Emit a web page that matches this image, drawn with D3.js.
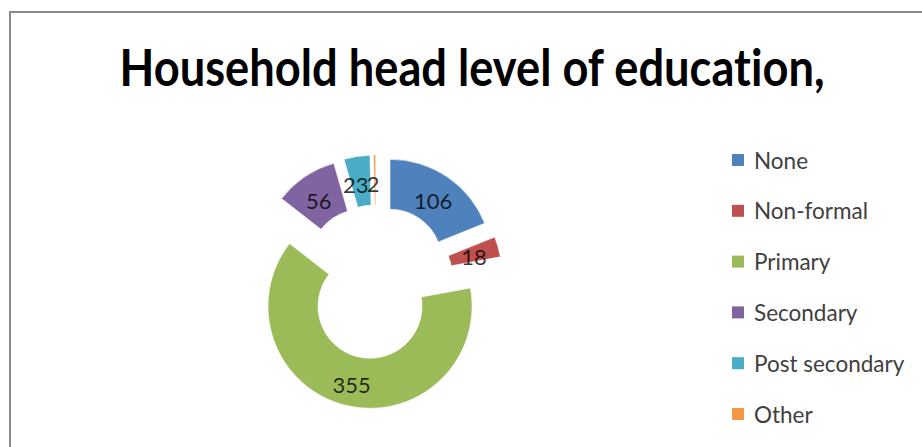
<!DOCTYPE html>
<html>
<head>
<meta charset="utf-8">
<script src="https://cdn.jsdelivr.net/npm/d3@7/dist/d3.min.js"></script>
<style>
  html, body { margin: 0; padding: 0; background: #fff; }
  svg { display: block; }
  text { font-variant-ligatures: none; }
</style>
</head>
<body>
<svg id="chart" width="922" height="447"></svg>
<script>
const title = "Household head level of education,";
const categories = ["None", "Non-formal", "Primary", "Secondary", "Post secondary", "Other"];
const values = [106, 18, 355, 56, 23, 2];
const colors = ["#4F81BD", "#C0504D", "#9BBB59", "#8064A2", "#4BACC6", "#F79646"];

const W = 922, H = 447;
const svg = d3.select("#chart");

// frame
svg.append("rect").attr("x", 0).attr("y", 0).attr("width", W).attr("height", H).attr("fill", "#fff");
svg.append("rect")
  .attr("x", 10).attr("y", 12).attr("width", W + 20).attr("height", H + 20)
  .attr("fill", "#fff").attr("stroke", "#8a8a8a").attr("stroke-width", 2);

// title
const tg = svg.append("g").attr("transform", "translate(472,66) scale(1,1.12)");
const t = tg.append("text")
  .attr("x", 0).attr("y", 0)
  .attr("text-anchor", "middle").attr("dominant-baseline", "central")
  .attr("font-family", "Lato, 'Open Sans', sans-serif")
  .attr("font-weight", "bold").attr("font-size", 38).attr("fill", "#000")
  .text(title);
const tw = t.node().getComputedTextLength();
t.attr("font-size", 38 * 705 / tw);

// donut
const cx = 376, cy = 282, R = 102, r = 52, explode = 25;
const data = categories.map((c, i) => ({ name: c, value: values[i], color: colors[i] }));
const pie = d3.pie().value(d => d.value).sort(null).startAngle(0).endAngle(2 * Math.PI);
const arcs = pie(data);
const arc = d3.arc().innerRadius(r).outerRadius(R);
const g = svg.append("g").attr("transform", `translate(${cx},${cy})`);

const slices = g.selectAll("g.slice").data(arcs).join("g")
  .attr("class", "slice")
  .attr("transform", d => {
    const a = (d.startAngle + d.endAngle) / 2;
    return `translate(${Math.sin(a) * explode},${-Math.cos(a) * explode})`;
  });

slices.append("path")
  .attr("d", arc)
  .attr("fill", d => d.data.color)
  .attr("stroke", "#fff").attr("stroke-width", 0.6);

slices.append("text")
  .attr("transform", d => {
    const [x, y] = arc.centroid(d);
    return `translate(${x},${y + 3})`;
  })
  .attr("text-anchor", d => d.data.name === "Post secondary" ? "end" : (d.data.name === "Other" ? "start" : "middle"))
  .attr("dx", d => d.data.name === "Post secondary" ? 8 : (d.data.name === "Other" ? -8 : 0))
  .attr("dominant-baseline", "central")
  .attr("font-family", "Lato, 'Open Sans', sans-serif")
  .attr("font-size", 22)
  .attr("fill", "#000").attr("fill-opacity", 0.78)
  .text(d => d.data.value);

// legend
const legend = svg.append("g");
const ly = d3.scalePoint().domain(categories).range([160, 414]);
const items = legend.selectAll("g").data(data).join("g")
  .attr("transform", d => `translate(732,${ly(d.name)})`);
items.append("rect").attr("x", 0).attr("y", -6).attr("width", 12).attr("height", 12)
  .attr("fill", d => d.color);
items.append("text").attr("x", 22).attr("y", 0)
  .attr("dominant-baseline", "central")
  .attr("font-family", "Lato, 'Open Sans', sans-serif")
  .attr("font-size", 22.5).attr("fill", "#404040")
  .text(d => d.name);
</script>
</body>
</html>
